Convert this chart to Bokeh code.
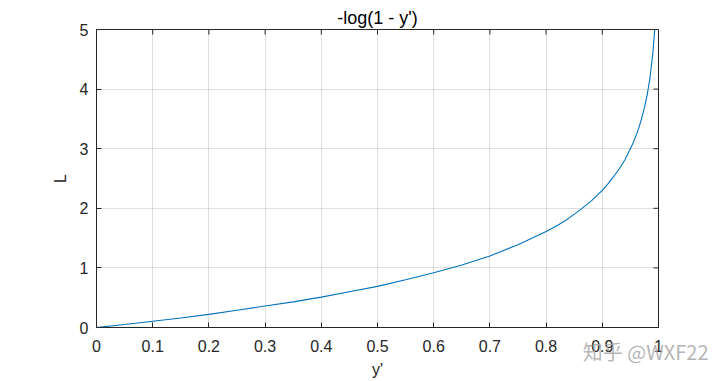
import math
from bokeh.plotting import figure
from bokeh.models import Title, FixedTicker, Range1d
from bokeh.embed import file_html
from bokeh.resources import INLINE

y_prime = [0, 0.05, 0.1, 0.15, 0.2, 0.25, 0.3, 0.35, 0.4, 0.45, 0.5, 0.55, 0.6,
           0.65, 0.7, 0.75, 0.8, 0.82, 0.84, 0.86, 0.88, 0.9, 0.91, 0.92, 0.93,
           0.94, 0.95, 0.955, 0.96, 0.965, 0.97, 0.975, 0.98, 0.985, 0.99, 0.9933]
loss = [0, 0.05, 0.105, 0.16, 0.22, 0.29, 0.36, 0.43, 0.51, 0.60, 0.69, 0.80, 0.92,
        1.05, 1.20, 1.39, 1.61, 1.71, 1.83, 1.97, 2.12, 2.30, 2.41, 2.53, 2.66,
        2.81, 3.00, 3.10, 3.22, 3.35, 3.51, 3.69, 3.91, 4.20, 4.61, 5.0]

x_ticks = [0, 0.1, 0.2, 0.3, 0.4, 0.5, 0.6, 0.7, 0.8, 0.9, 1]
x_tick_labels = {0: "0", 0.1: "0.1", 0.2: "0.2", 0.3: "0.3", 0.4: "0.4", 0.5: "0.5",
                 0.6: "0.6", 0.7: "0.7", 0.8: "0.8", 0.9: "0.9", 1: "1"}
y_ticks = [0, 1, 2, 3, 4, 5]

title_text = "-log(1 - y')"
x_label = "y'"
y_label = "L"
watermark = "知乎 @WXF22"

FONT = "Liberation Sans"
TXT = "#262626"
X0, X1, Y0, Y1 = 0, 1, 0, 5

p = figure(width=728, height=381, output_backend="svg", toolbar_location=None,
           x_range=Range1d(X0, X1), y_range=Range1d(Y0, Y1),
           min_border_left=96, min_border_right=70, min_border_top=29,
           min_border_bottom=54, x_axis_label=x_label, y_axis_label=y_label,
           title=title_text)
p.background_fill_color = "white"
p.border_fill_color = "white"
p.outline_line_color = TXT
p.outline_line_width = 1

p.title.align = "center"
p.title.text_font = FONT
p.title.text_font_style = "normal"
p.title.text_font_size = "18px"
p.title.text_color = "black"
p.title.standoff = 4

for ax in p.xaxis:
    ax.ticker = FixedTicker(ticks=x_ticks)
    ax.major_label_overrides = x_tick_labels
for ax in p.yaxis:
    ax.ticker = FixedTicker(ticks=y_ticks)

for ax in list(p.xaxis) + list(p.yaxis):
    ax.major_tick_in = 5
    ax.major_tick_out = 0
    ax.minor_tick_in = 0
    ax.minor_tick_out = 0
    ax.axis_line_color = TXT
    ax.major_tick_line_color = TXT
    ax.major_label_text_font = FONT
    ax.major_label_text_font_size = "16px"
    ax.major_label_text_color = TXT
    ax.axis_label_text_font = FONT
    ax.axis_label_text_font_size = "16px"
    ax.axis_label_text_font_style = "normal"
    ax.axis_label_text_color = TXT
p.xaxis.major_label_standoff = 12
p.xaxis.axis_label_standoff = 6
p.yaxis.major_label_standoff = 8
p.yaxis.axis_label_standoff = 8

p.xgrid.ticker = FixedTicker(ticks=x_ticks)
p.ygrid.ticker = FixedTicker(ticks=y_ticks)
p.grid.grid_line_color = "#262626"
p.grid.grid_line_alpha = 0.15
p.grid.grid_line_width = 1

# opposite-side tick marks (box on): dash markers clipped at the frame edge
p.scatter(x_ticks, [Y1] * len(x_ticks), marker="dash", size=10, angle=math.pi / 2,
          line_color=TXT, line_width=1)
p.scatter([X1] * len(y_ticks), y_ticks, marker="dash", size=10,
          line_color=TXT, line_width=1)

p.line(y_prime, loss, line_color="#0072BD", line_width=1.1)

# watermark, drawn as a title in the bottom panel and pulled up onto the tick-label row
wm = Title(text=watermark, align="right", vertical_align="top",
           text_font="Noto Sans CJK SC", text_font_size="20px",
           text_font_style="normal", text_color="#a8a8a8", text_alpha=0.85,
           standoff=-87, offset=-50)
p.add_layout(wm, "below")

open("out.html", "w").write(file_html(p, INLINE))
